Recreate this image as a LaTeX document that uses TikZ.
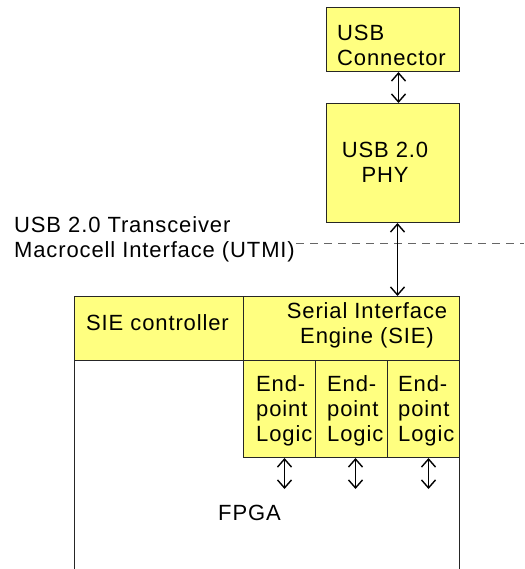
\documentclass[tikz,border=0pt]{standalone}
\usepackage{fontspec}
\setmainfont[LetterSpace=4]{Liberation Sans}
\usetikzlibrary{arrows.meta}
\definecolor{boxyellow}{RGB}{255,255,128}
\begin{document}
\begin{tikzpicture}[x=1pt,y=-1pt,
  box/.style={draw=black!85, fill=boxyellow, line width=1pt, inner sep=0pt, anchor=north west},
  lbl/.style={inner sep=0pt, font=\fontsize{22}{25}\selectfont},
  dbl/.style={{Straight Barb[length=8pt,width=14pt,line width=1.4pt]}-{Straight Barb[length=8pt,width=14pt,line width=1.4pt]}, line width=1pt},
  utmiline/.style={draw=black!60, line width=1pt, dash pattern=on 8pt off 6pt}]
\useasboundingbox (0,0) rectangle (524,569);
% FPGA outline (open at bottom)
\draw[line width=1pt, draw=black!85] (74,569) -- (74,296) -- (459,296) -- (459,569);
% boxes
\node[box, minimum width=133pt, minimum height=64pt] (conn) at (326,7) {};
\node[box, minimum width=133pt, minimum height=119pt] (phy) at (326,103) {};
\node[box, minimum width=169pt, minimum height=64pt] (siec) at (74,296) {};
\node[box, minimum width=216pt, minimum height=64pt] (sie) at (243,296) {};
\node[box, minimum width=72pt, minimum height=97pt] (ep1) at (243,360) {};
\node[box, minimum width=72pt, minimum height=97pt] (ep2) at (315,360) {};
\node[box, minimum width=72pt, minimum height=97pt] (ep3) at (387,360) {};
% labels
\node[lbl, anchor=west, align=left] (tconn) at (337,45.5) {USB\\Connector};
\node[lbl, align=center] (tphy) at (385,162.5) {USB 2.0\\PHY};
\node[lbl, anchor=west, align=left] (tutmi) at (14,239.5) {USB 2.0 Transceiver\\Macrocell Interface (UTMI)};
\node[lbl, anchor=west] (tsiec) at (86,323) {SIE controller};
\node[lbl, align=center] (tsie) at (367,325) {Serial Interface\\Engine (SIE)};
\node[lbl, anchor=west, align=left] (tep1) at (256,411) {End-\\point\\Logic};
\node[lbl, anchor=west, align=left] (tep2) at (327,411) {End-\\point\\Logic};
\node[lbl, anchor=west, align=left] (tep3) at (398,411) {End-\\point\\Logic};
\node[lbl, anchor=west] (tfpga) at (218,513) {FPGA};
% UTMI dashed line
\coordinate (ustart) at (296,243);
\coordinate (uend) at (524,243);
\draw[utmiline] (ustart) -- (uend);
% connectors
\draw[dbl] ([xshift=5.5pt]conn.south) -- ([xshift=5.5pt]phy.north);
\draw[dbl] ([xshift=4.5pt]phy.south) -- ([xshift=4.5pt]phy.south |- sie.north);
\coordinate (e1) at ([xshift=5pt,yshift=-31pt]ep1.south);
\coordinate (e2) at ([xshift=4pt,yshift=-31pt]ep2.south);
\coordinate (e3) at ([xshift=5pt,yshift=-31pt]ep3.south);
\draw[dbl] ([xshift=5pt]ep1.south) -- (e1);
\draw[dbl] ([xshift=4pt]ep2.south) -- (e2);
\draw[dbl] ([xshift=5pt]ep3.south) -- (e3);
\end{tikzpicture}
\end{document}
